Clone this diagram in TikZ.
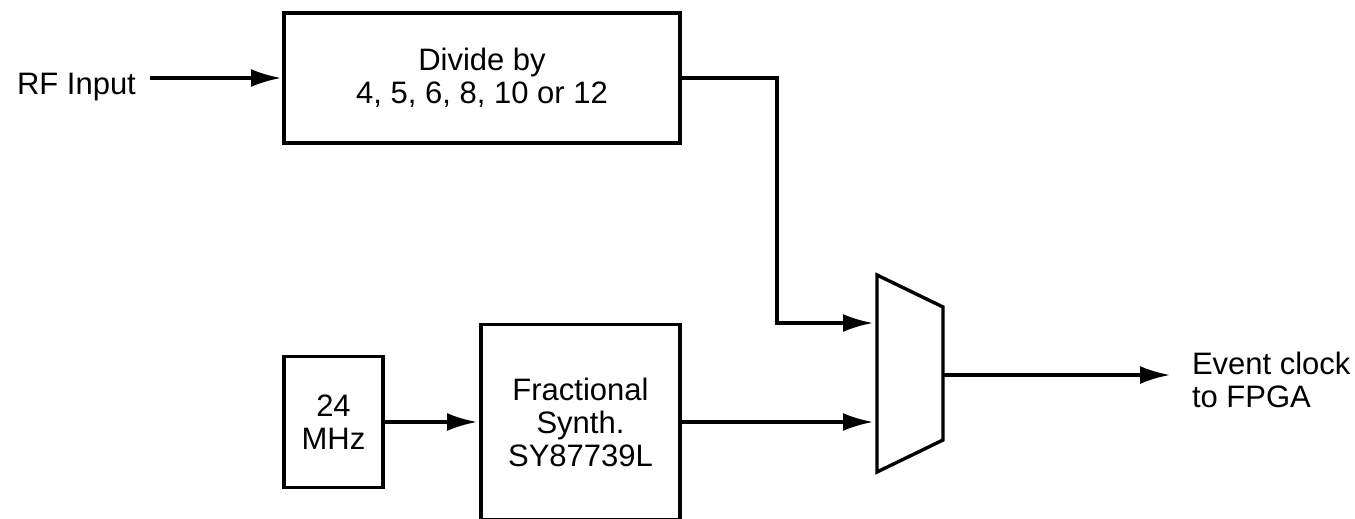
\documentclass[tikz,border=0pt]{standalone}
\usepackage{fontspec}
\setmainfont{Liberation Sans}
\usetikzlibrary{arrows.meta}
\begin{document}
\begin{tikzpicture}[x=1pt,y=-1pt,
  every node/.style={font=\fontsize{31}{33}\selectfont, inner sep=0pt, outer sep=0pt},
  blk/.style={draw, line width=3.4pt, rectangle, align=center},
  wire/.style={line width=3.2pt},
  tip/.style={-{Latex[length=30pt,width=18pt]}},
  arr/.style={wire, tip, shorten >=4pt}
]
\useasboundingbox (0,0) rectangle (1355,519);
\fill[white] (0,0) rectangle (1355,519);
\clip (0,0) rectangle (1355,519);

% blocks
\node[blk, minimum width=396pt, minimum height=130pt] (div) at (482,78) {Divide by\\4, 5, 6, 8, 10 or 12};
\node[blk, minimum width=99pt, minimum height=131pt] (osc) at (333.5,422) {24\\MHz};
\node[blk, minimum width=199pt, minimum height=195pt] (syn) at (580.5,422) {Fractional\\Synth.\\SY87739L};

% multiplexer
\draw[line width=3.4pt, line join=miter] (877,275) coordinate (mtl) -- (943,307) -- (943,440) -- (877,472) coordinate (mbl) -- cycle;
\coordinate (muxin1) at (877,323);
\coordinate (muxin2) at (877,422);
\coordinate (muxout) at (943,375);

% labels
\node[anchor=base west] (rf) at (17,94) {RF Input};
\node[anchor=west, align=left] (evt) at (1192,380) {Event clock\\to FPGA};

% connectors
\coordinate (rfin) at (150,78);
\draw[arr, shorten >=3pt] (rfin) -- (div.west);
\coordinate (bend) at (777,323);
\draw[arr, line join=miter] (div.east) -| (bend) -- (muxin1);
\draw[arr] (osc.east) -- (syn.west);
\draw[arr] (syn.east) -- (muxin2);
\coordinate (outend) at (1170,375);
\draw[wire, tip] (muxout) -- (outend);
\end{tikzpicture}
\end{document}
